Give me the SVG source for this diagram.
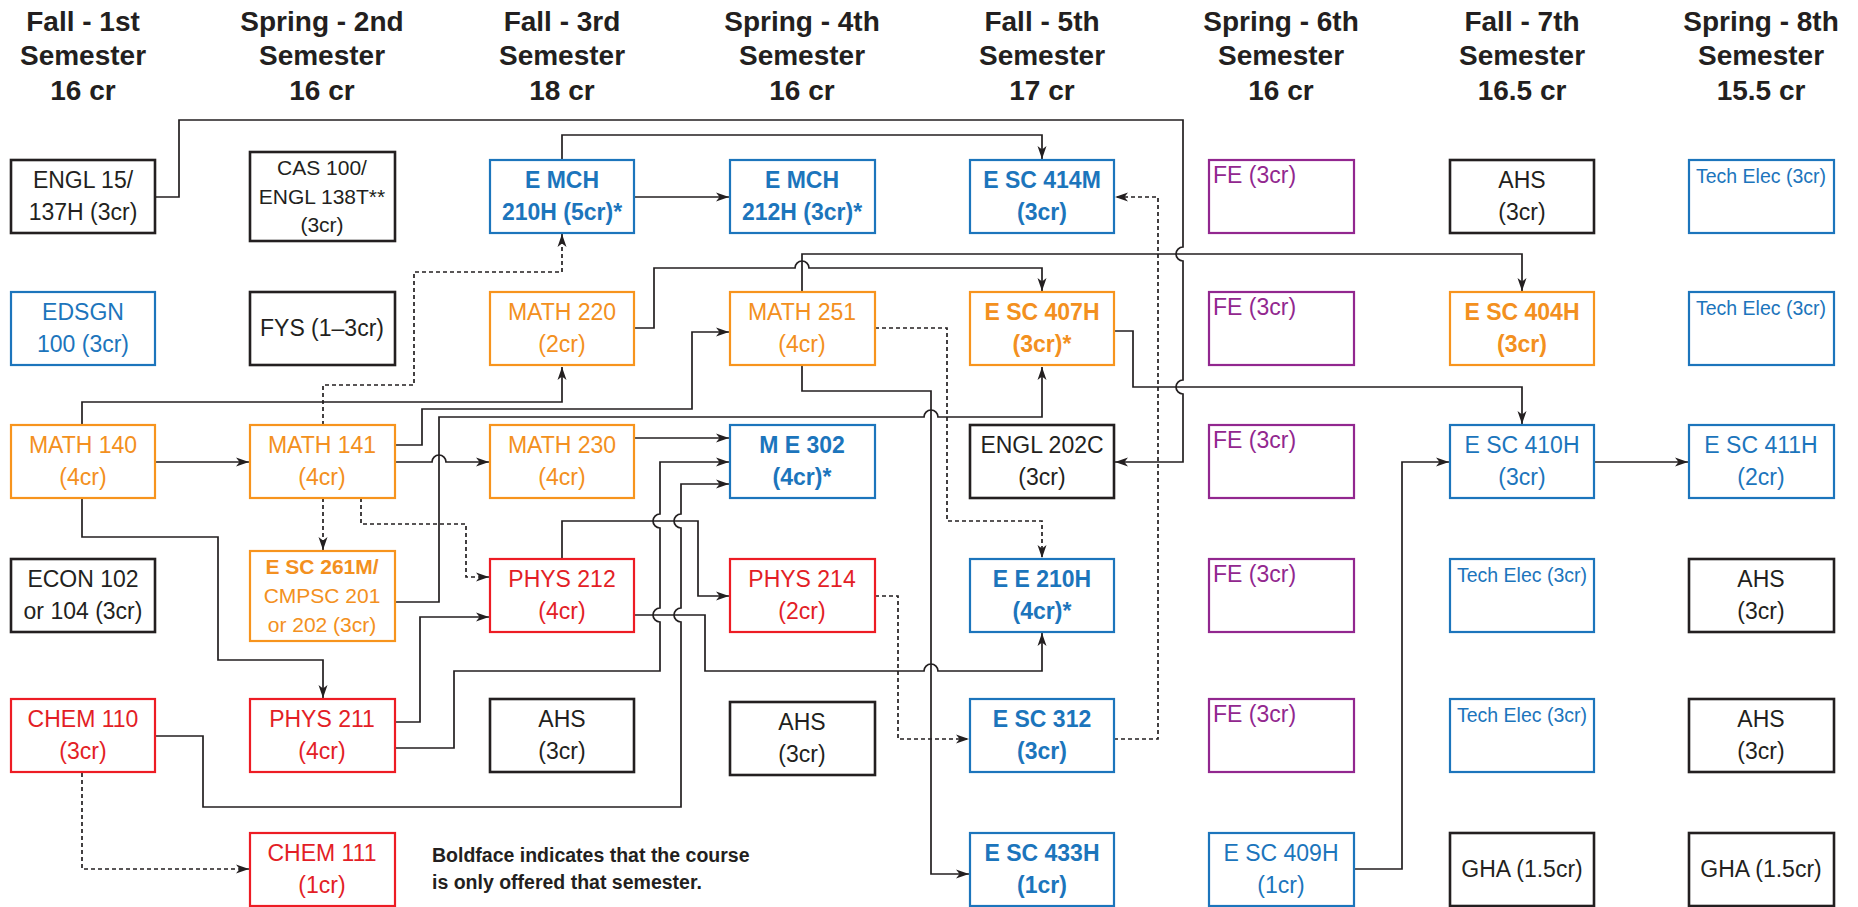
<svg xmlns="http://www.w3.org/2000/svg" width="1858" height="907" viewBox="0 0 1858 907">
<style>
text{font-family:"Liberation Sans",Arial,sans-serif}
.h{font-size:28px;font-weight:bold;fill:#231f20;text-anchor:middle}
.n text{font-size:23px;text-anchor:middle}
.s text{font-size:21px}
.b text{font-weight:bold}
rect{fill:#fff;stroke-width:2.2}
.k rect{stroke:#231f20;stroke-width:2.6}.k text{fill:#231f20}
.bl rect{stroke:#1c75bc}.bl text{fill:#1c75bc}
.or rect{stroke:#f7941d}.or text{fill:#f39020}
.rd rect{stroke:#ed1c24}.rd text{fill:#e31e26}
.pu rect{stroke:#92278f}.pu text{fill:#92278f;font-size:23px;text-anchor:start}
.te text{font-size:19.5px}
.c path{fill:none;stroke:#231f20;stroke-width:1.7}
.c .d{stroke-dasharray:4 3}
.lg{font-size:19.5px;font-weight:bold;fill:#231f20}
</style>
<defs>
<marker id="ar" markerWidth="14" markerHeight="10" refX="13" refY="5" orient="auto" markerUnits="userSpaceOnUse"><path d="M0,0.5 L13,5 L0,9.5 L3.5,5 z" fill="#231f20"/></marker>
</defs>

<g id="headers">
<text class="h" x="83" y="31">Fall - 1st</text><text class="h" x="83" y="65">Semester</text><text class="h" x="83" y="100">16 cr</text>
<text class="h" x="322" y="31">Spring - 2nd</text><text class="h" x="322" y="65">Semester</text><text class="h" x="322" y="100">16 cr</text>
<text class="h" x="562" y="31">Fall - 3rd</text><text class="h" x="562" y="65">Semester</text><text class="h" x="562" y="100">18 cr</text>
<text class="h" x="802" y="31">Spring - 4th</text><text class="h" x="802" y="65">Semester</text><text class="h" x="802" y="100">16 cr</text>
<text class="h" x="1042" y="31">Fall - 5th</text><text class="h" x="1042" y="65">Semester</text><text class="h" x="1042" y="100">17 cr</text>
<text class="h" x="1281" y="31">Spring - 6th</text><text class="h" x="1281" y="65">Semester</text><text class="h" x="1281" y="100">16 cr</text>
<text class="h" x="1522" y="31">Fall - 7th</text><text class="h" x="1522" y="65">Semester</text><text class="h" x="1522" y="100">16.5 cr</text>
<text class="h" x="1761" y="31">Spring - 8th</text><text class="h" x="1761" y="65">Semester</text><text class="h" x="1761" y="100">15.5 cr</text>
</g>

<g class="c" id="connectors">
<path marker-end="url(#ar)" d="M155,197 H179 V120 H1183 V247 A7,7 0 0 0 1183,261 V380 A7,7 0 0 0 1183,394 V462 H1115"/>
<path marker-end="url(#ar)" d="M562,160 V135 H1042 V159"/>
<path marker-end="url(#ar)" d="M634,197 H729"/>
<path class="d" marker-end="url(#ar)" d="M1114,739 H1158 V197 H1115"/>
<path marker-end="url(#ar)" d="M634,328 H654 V268 H795 A7,7 0 0 1 809,268 H1042 V291"/>
<path marker-end="url(#ar)" d="M802,292 V254 H1522 V291"/>
<path marker-end="url(#ar)" d="M82,425 V402 H562 V367"/>
<path class="d" marker-end="url(#ar)" d="M323,425 V385 H414 V272 H562 V234"/>
<path marker-end="url(#ar)" d="M395,445 H422 V409 H692 V332 H729"/>
<path marker-end="url(#ar)" d="M395,462 H432 A7,7 0 0 1 446,462 H489"/>
<path marker-end="url(#ar)" d="M395,602 H439 V417 H924 A7,7 0 0 1 938,417 H1042 V367"/>
<path class="d" marker-end="url(#ar)" d="M323,498 V550"/>
<path class="d" marker-end="url(#ar)" d="M361,498 V524 H466 V577 H489"/>
<path marker-end="url(#ar)" d="M82,498 V537 H218 V660 H323 V698"/>
<path marker-end="url(#ar)" d="M395,722 H420 V617 H489"/>
<path marker-end="url(#ar)" d="M395,748 H454 V671 H660 V622 A7,7 0 0 1 660,608 V528 A7,7 0 0 1 660,514 V462 H729"/>
<path marker-end="url(#ar)" d="M155,736 H203 V807 H681 V622 A7,7 0 0 1 681,608 V528 A7,7 0 0 1 681,514 V484 H729"/>
<path marker-end="url(#ar)" d="M634,438 H729"/>
<path marker-end="url(#ar)" d="M562,559 V521 H698 V596 H729"/>
<path marker-end="url(#ar)" d="M634,615 H705 V671 H924 A7,7 0 0 1 938,671 H1042 V633"/>
<path class="d" marker-end="url(#ar)" d="M875,328 H947 V521 H1042 V558"/>
<path marker-end="url(#ar)" d="M802,366 V391 H931 V874 H969"/>
<path class="d" marker-end="url(#ar)" d="M875,596 H898 V739 H969"/>
<path marker-end="url(#ar)" d="M1114,331 H1133 V387 H1522 V424"/>
<path marker-end="url(#ar)" d="M1594,462 H1688"/>
<path marker-end="url(#ar)" d="M1354,869 H1402 V462 H1449"/>
<path class="d" marker-end="url(#ar)" d="M82,773 V869 H249"/>
<path marker-end="url(#ar)" d="M155,462 H249"/>
</g>

<g id="n_engl15" class="n k"><rect x="11" y="160" width="144" height="73"/><text x="83" y="188">ENGL 15/</text><text x="83" y="220">137H (3cr)</text></g>
<g id="n_edsgn100" class="n bl"><rect x="11" y="292" width="144" height="73"/><text x="83" y="320">EDSGN</text><text x="83" y="352">100 (3cr)</text></g>
<g id="n_math140" class="n or"><rect x="11" y="425" width="144" height="73"/><text x="83" y="453">MATH 140</text><text x="83" y="485">(4cr)</text></g>
<g id="n_econ102" class="n k"><rect x="11" y="559" width="144" height="73"/><text x="83" y="587">ECON 102</text><text x="83" y="619">or 104 (3cr)</text></g>
<g id="n_chem110" class="n rd"><rect x="11" y="699" width="144" height="73"/><text x="83" y="727">CHEM 110</text><text x="83" y="759">(3cr)</text></g>

<g id="n_cas100" class="n s k"><rect x="250" y="152" width="145" height="89"/><text x="322" y="175">CAS 100/</text><text x="322" y="204">ENGL 138T**</text><text x="322" y="232">(3cr)</text></g>
<g id="n_fys" class="n k"><rect x="250" y="292" width="145" height="73"/><text x="322" y="336">FYS (1–3cr)</text></g>
<g id="n_math141" class="n or"><rect x="250" y="425" width="145" height="73"/><text x="322" y="453">MATH 141</text><text x="322" y="485">(4cr)</text></g>
<g id="n_esc261m" class="n s or"><rect x="250" y="551" width="145" height="90"/><text x="322" y="574" font-weight="bold">E SC 261M/</text><text x="322" y="603">CMPSC 201</text><text x="322" y="632">or 202 (3cr)</text></g>
<g id="n_phys211" class="n rd"><rect x="250" y="699" width="145" height="73"/><text x="322" y="727">PHYS 211</text><text x="322" y="759">(4cr)</text></g>
<g id="n_chem111" class="n rd"><rect x="250" y="833" width="145" height="73"/><text x="322" y="861">CHEM 111</text><text x="322" y="893">(1cr)</text></g>

<g id="n_emch210h" class="n b bl"><rect x="490" y="160" width="144" height="73"/><text x="562" y="188">E MCH</text><text x="562" y="220">210H (5cr)*</text></g>
<g id="n_math220" class="n or"><rect x="490" y="292" width="144" height="73"/><text x="562" y="320">MATH 220</text><text x="562" y="352">(2cr)</text></g>
<g id="n_math230" class="n or"><rect x="490" y="425" width="144" height="73"/><text x="562" y="453">MATH 230</text><text x="562" y="485">(4cr)</text></g>
<g id="n_phys212" class="n rd"><rect x="490" y="559" width="144" height="73"/><text x="562" y="587">PHYS 212</text><text x="562" y="619">(4cr)</text></g>
<g id="n_ahs3" class="n k"><rect x="490" y="699" width="144" height="73"/><text x="562" y="727">AHS</text><text x="562" y="759">(3cr)</text></g>
<g id="legend"><text class="lg" x="432" y="862">Boldface indicates that the course</text><text class="lg" x="432" y="889">is only offered that semester.</text></g>

<g id="n_emch212h" class="n b bl"><rect x="730" y="160" width="145" height="73"/><text x="802" y="188">E MCH</text><text x="802" y="220">212H (3cr)*</text></g>
<g id="n_math251" class="n or"><rect x="730" y="292" width="145" height="73"/><text x="802" y="320">MATH 251</text><text x="802" y="352">(4cr)</text></g>
<g id="n_me302" class="n b bl"><rect x="730" y="425" width="145" height="73"/><text x="802" y="453">M E 302</text><text x="802" y="485">(4cr)*</text></g>
<g id="n_phys214" class="n rd"><rect x="730" y="559" width="145" height="73"/><text x="802" y="587">PHYS 214</text><text x="802" y="619">(2cr)</text></g>
<g id="n_ahs4" class="n k"><rect x="730" y="702" width="145" height="73"/><text x="802" y="730">AHS</text><text x="802" y="762">(3cr)</text></g>

<g id="n_esc414m" class="n b bl"><rect x="970" y="160" width="144" height="73"/><text x="1042" y="188">E SC 414M</text><text x="1042" y="220">(3cr)</text></g>
<g id="n_esc407h" class="n b or"><rect x="970" y="292" width="144" height="73"/><text x="1042" y="320">E SC 407H</text><text x="1042" y="352">(3cr)*</text></g>
<g id="n_engl202c" class="n k"><rect x="970" y="425" width="144" height="73"/><text x="1042" y="453">ENGL 202C</text><text x="1042" y="485">(3cr)</text></g>
<g id="n_ee210h" class="n b bl"><rect x="970" y="559" width="144" height="73"/><text x="1042" y="587">E E 210H</text><text x="1042" y="619">(4cr)*</text></g>
<g id="n_esc312" class="n b bl"><rect x="970" y="699" width="144" height="73"/><text x="1042" y="727">E SC 312</text><text x="1042" y="759">(3cr)</text></g>
<g id="n_esc433h" class="n b bl"><rect x="970" y="833" width="144" height="73"/><text x="1042" y="861">E SC 433H</text><text x="1042" y="893">(1cr)</text></g>

<g id="n_fe1" class="pu"><rect x="1209" y="160" width="145" height="73"/><text x="1213" y="183">FE (3cr)</text></g>
<g id="n_fe2" class="pu"><rect x="1209" y="292" width="145" height="73"/><text x="1213" y="315">FE (3cr)</text></g>
<g id="n_fe3" class="pu"><rect x="1209" y="425" width="145" height="73"/><text x="1213" y="448">FE (3cr)</text></g>
<g id="n_fe4" class="pu"><rect x="1209" y="559" width="145" height="73"/><text x="1213" y="582">FE (3cr)</text></g>
<g id="n_fe5" class="pu"><rect x="1209" y="699" width="145" height="73"/><text x="1213" y="722">FE (3cr)</text></g>
<g id="n_esc409h" class="n bl"><rect x="1209" y="833" width="145" height="73"/><text x="1281" y="861">E SC 409H</text><text x="1281" y="893">(1cr)</text></g>

<g id="n_ahs7" class="n k"><rect x="1450" y="160" width="144" height="73"/><text x="1522" y="188">AHS</text><text x="1522" y="220">(3cr)</text></g>
<g id="n_esc404h" class="n b or"><rect x="1450" y="292" width="144" height="73"/><text x="1522" y="320">E SC 404H</text><text x="1522" y="352">(3cr)</text></g>
<g id="n_esc410h" class="n bl"><rect x="1450" y="425" width="144" height="73"/><text x="1522" y="453">E SC 410H</text><text x="1522" y="485">(3cr)</text></g>
<g id="n_te7a" class="n te bl"><rect x="1450" y="559" width="144" height="73"/><text x="1522" y="582">Tech Elec (3cr)</text></g>
<g id="n_te7b" class="n te bl"><rect x="1450" y="699" width="144" height="73"/><text x="1522" y="722">Tech Elec (3cr)</text></g>
<g id="n_gha7" class="n k"><rect x="1450" y="833" width="144" height="73"/><text x="1522" y="877">GHA (1.5cr)</text></g>

<g id="n_te8a" class="n te bl"><rect x="1689" y="160" width="145" height="73"/><text x="1761" y="183">Tech Elec (3cr)</text></g>
<g id="n_te8b" class="n te bl"><rect x="1689" y="292" width="145" height="73"/><text x="1761" y="315">Tech Elec (3cr)</text></g>
<g id="n_esc411h" class="n bl"><rect x="1689" y="425" width="145" height="73"/><text x="1761" y="453">E SC 411H</text><text x="1761" y="485">(2cr)</text></g>
<g id="n_ahs8a" class="n k"><rect x="1689" y="559" width="145" height="73"/><text x="1761" y="587">AHS</text><text x="1761" y="619">(3cr)</text></g>
<g id="n_ahs8b" class="n k"><rect x="1689" y="699" width="145" height="73"/><text x="1761" y="727">AHS</text><text x="1761" y="759">(3cr)</text></g>
<g id="n_gha8" class="n k"><rect x="1689" y="833" width="145" height="73"/><text x="1761" y="877">GHA (1.5cr)</text></g>
</svg>
